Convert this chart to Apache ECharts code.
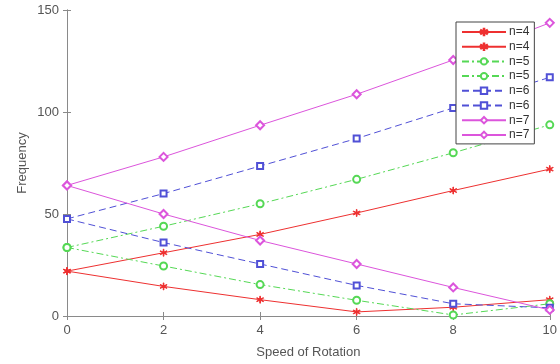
<!DOCTYPE html>
<html>
<head>
<meta charset="utf-8">
<script src="https://cdn.jsdelivr.net/npm/echarts@6/dist/echarts.min.js"></script>
<style>
  html, body { margin: 0; padding: 0; background: #fff; }
  #chart { width: 560px; height: 364px; }
</style>
</head>
<body>
<div id="chart"></div>
<script>
// Speed of rotation values on the x axis
const speeds = [0, 2, 4, 6, 8, 10];

// Frequencies, two branches per n
const n4Up = [22, 31, 40, 50.5, 61.5, 72];
const n4Down = [22, 14.5, 8, 2, 4.3, 8];
const n5Up = [33.6, 44, 55, 67, 80, 93.7];
const n5Down = [33.6, 24.5, 15.4, 7.7, 0.5, 6];
const n6Up = [47.6, 60, 73.5, 87, 102, 117];
const n6Down = [47.6, 36, 25.5, 15, 6, 4];
const n7Up = [64, 78, 93.5, 108.7, 125.5, 143.7];
const n7Down = [64, 50, 37, 25.5, 14, 3];

const textColor = '#555';
const axisColor = '#8a8a8a';

// MATLAB style asterisk marker (thin bars + centre dot)
const asterisk = 'path://M4.6,0 L5.4,0 L5.4,10 L4.6,10 Z M0.47,2.85 L9.13,7.85 L9.53,7.15 L0.87,2.15 Z M0.87,7.85 L9.53,2.85 L9.13,2.15 L0.47,7.15 Z M3.3,5 A1.7,1.7 0 1 0 6.7,5 A1.7,1.7 0 1 0 3.3,5 Z';

const styles = {
    n4: { color: '#ee3030', symbol: asterisk, size: 7, type: 'solid' },
    n5: { color: '#55d855', symbol: 'emptyCircle', size: 7, type: [7, 3, 2, 3] },
    n6: { color: '#5050d6', symbol: 'emptyRect', size: 6, type: [7, 4] },
    n7: { color: '#dc55dc', symbol: 'emptyDiamond', size: 8, type: 'solid' }
};

function makeSeries(name, key, values) {
    const s = styles[key];
    return {
        name: name,
        type: 'line',
        data: speeds.map((x, i) => [x, values[i]]),
        symbol: s.symbol,
        symbolSize: s.size,
        showAllSymbol: true,
        lineStyle: { color: s.color, width: 1, type: s.type },
        itemStyle: { color: s.color, borderColor: s.color, borderWidth: 1 },
        emphasis: { disabled: true },
        animation: false,
        z: 3
    };
}

const series = [
    makeSeries('n=4 a', 'n4', n4Up),
    makeSeries('n=4 b', 'n4', n4Down),
    makeSeries('n=5 a', 'n5', n5Up),
    makeSeries('n=5 b', 'n5', n5Down),
    makeSeries('n=6 a', 'n6', n6Up),
    makeSeries('n=6 b', 'n6', n6Down),
    makeSeries('n=7 a', 'n7', n7Up),
    makeSeries('n=7 b', 'n7', n7Down)
];

const chart = echarts.init(document.getElementById('chart'));

const tickIn = { show: true, inside: true, length: 4, lineStyle: { color: axisColor } };

chart.setOption({
    backgroundColor: '#fff',
    animation: false,
    textStyle: { fontFamily: 'Liberation Sans, Arial, sans-serif' },
    grid: { left: 67, right: 9, top: 10, bottom: 42 },
    legend: {
        left: 456,
        top: 22,
        orient: 'vertical',
        itemWidth: 44,
        itemHeight: 8,
        itemGap: 2.7,
        padding: [4, 5, 3, 5],
        borderColor: '#444',
        borderWidth: 1,
        backgroundColor: '#fff',
        formatter: name => name.split(' ')[0],
        textStyle: { color: '#333', fontSize: 12, lineHeight: 12, padding: [0, 0, 0, -2] },
        selectedMode: false
    },
    xAxis: [
        {
            type: 'value',
            min: 0,
            max: 10,
            interval: 2,
            name: 'Speed of Rotation',
            nameLocation: 'middle',
            nameGap: 30,
            nameTextStyle: { color: textColor, fontSize: 13 },
            axisLine: { lineStyle: { color: axisColor } },
            axisTick: tickIn,
            axisLabel: { color: textColor, fontSize: 13, margin: 8 },
            splitLine: { show: false }
        },
        {
            type: 'value',
            position: 'top',
            min: 0,
            max: 10,
            interval: 2,
            axisLine: { show: true, lineStyle: { color: axisColor } },
            axisTick: tickIn,
            axisLabel: { show: false },
            splitLine: { show: false }
        }
    ],
    yAxis: [
        {
            type: 'value',
            min: 0,
            max: 150,
            interval: 50,
            name: 'Frequency',
            nameLocation: 'middle',
            nameGap: 38,
            nameMoveOverlap: false,
            nameTextStyle: { color: textColor, fontSize: 13 },
            axisLine: { show: true, lineStyle: { color: axisColor } },
            axisTick: tickIn,
            axisLabel: { color: textColor, fontSize: 13, margin: 8 },
            splitLine: { show: false }
        },
        {
            type: 'value',
            position: 'right',
            min: 0,
            max: 150,
            interval: 50,
            axisLine: { show: true, lineStyle: { color: axisColor } },
            axisTick: tickIn,
            axisLabel: { show: false },
            splitLine: { show: false }
        }
    ],
    series: series
});
</script>
</body>
</html>
